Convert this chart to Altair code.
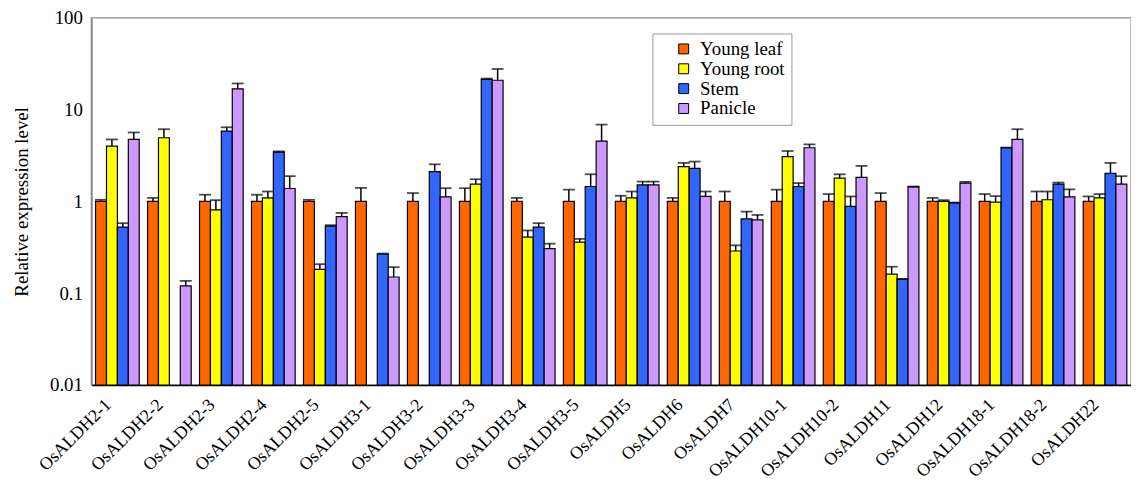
import altair as alt
import pandas as pd

genes = ["OsALDH2-1", "OsALDH2-2", "OsALDH2-3", "OsALDH2-4", "OsALDH2-5",
         "OsALDH3-1", "OsALDH3-2", "OsALDH3-3", "OsALDH3-4", "OsALDH3-5",
         "OsALDH5", "OsALDH6", "OsALDH7", "OsALDH10-1", "OsALDH10-2",
         "OsALDH11", "OsALDH12", "OsALDH18-1", "OsALDH18-2", "OsALDH22"]
tissues = ["Young leaf", "Young root", "Stem", "Panicle"]
colors = ["#FF6600", "#FFFF00", "#3366FF", "#CC99FF"]

young_leaf = [1.0, 1.0, 1.0, 1.0, 1.0, 1.0, 1.0, 1.0, 1.0, 1.0,
              1.0, 1.0, 1.0, 1.0, 1.0, 1.0, 1.0, 1.0, 1.0, 1.0]
young_leaf_err = [1.04, 1.09, 1.18, 1.18, 1.04, 1.40, 1.23, 1.39, 1.09, 1.34,
                  1.15, 1.09, 1.28, 1.34, 1.20, 1.23, 1.09, 1.20, 1.28, 1.13]
young_root = [4.0, 4.92, 0.806, 1.09, 0.182, None, None, 1.54, 0.408, 0.36,
              1.09, 2.39, 0.288, 3.07, 1.79, 0.161, 1.0, 0.98, 1.04, 1.09]
young_root_err = [4.72, 6.1, 1.03, 1.28, 0.207, None, None, 1.74, 0.482, 0.39,
                  1.28, 2.62, 0.332, 3.53, 1.97, 0.194, 1.03, 1.14, 1.28, 1.2]
stem = [0.524, None, 5.8, 3.44, 0.537, 0.267, 2.11, 21.3, 0.524, 1.45,
        1.51, 2.29, 0.644, 1.45, 0.883, 0.142, 0.96, 3.83, 1.54, 2.02]
stem_err = [0.578, None, 6.4, 3.5, 0.55, 0.27, 2.53, 21.7, 0.578, 1.97,
            1.64, 2.71, 0.773, 1.58, 1.13, 0.143, 0.97, 3.85, 1.6, 2.62]
panicle = [4.72, 0.12, 16.8, 1.38, 0.683, 0.15, 1.12, 20.8, 0.305, 4.53,
           1.51, 1.13, 0.628, 3.83, 1.82, 1.44, 1.58, 4.72, 1.12, 1.54]
panicle_err = [5.62, 0.136, 19.2, 1.88, 0.748, 0.192, 1.39, 27.6, 0.346, 6.85,
               1.64, 1.28, 0.711, 4.17, 2.43, 1.45, 1.63, 6.1, 1.35, 1.88]

series = [young_leaf, young_root, stem, panicle]
errors = [young_leaf_err, young_root_err, stem_err, panicle_err]

rows = []
for i, g in enumerate(genes):
    for t, vals, errs in zip(tissues, series, errors):
        v = vals[i]
        if v is None:
            continue
        rows.append({"gene": g, "tissue": t, "value": v, "err": errs[i]})
df = pd.DataFrame(rows)

FONT = "Liberation Serif"

x = alt.X("gene:N", sort=genes,
          scale=alt.Scale(paddingInner=0.16, paddingOuter=0.08),
          axis=alt.Axis(title=None, labelAngle=-45, labelAlign="right",
                        labelBaseline="middle", labelFont=FONT, labelFontSize=18,
                        labelColor="black", labelOffset=-9, labelPadding=17,
                        labelOverlap=False, ticks=False, domainColor="black",
                        domainWidth=1.5))
xoff = alt.XOffset("tissue:N", sort=tissues,
                   scale=alt.Scale(domain=tissues, paddingInner=0, paddingOuter=0))
yscale = alt.Scale(type="log", domain=[0.01, 100])
y = alt.Y("value:Q", scale=yscale,
          axis=alt.Axis(title="Relative expression level", values=[0.01, 0.1, 1, 10, 100],
                        format="~g", grid=False, ticks=False, labelFont=FONT,
                        labelFontSize=19, labelColor="black", labelPadding=9,
                        titleFont=FONT, titleFontSize=19, titleFontWeight="normal",
                        titleColor="black", titlePadding=18, domainColor="#808080",
                        domainWidth=1.5))
color = alt.Color("tissue:N", sort=tissues,
                  scale=alt.Scale(domain=tissues, range=colors),
                  legend=alt.Legend(title=None, orient="none", legendX=565, legendY=16,
                                    strokeColor="#999999", fillColor="white", padding=6,
                                    symbolType="square", symbolSize=100,
                                    symbolStrokeColor="black", symbolStrokeWidth=1,
                                    symbolOffset=16, labelFont=FONT, labelFontSize=19,
                                    labelColor="black", rowPadding=0, labelOffset=7))

base = alt.Chart(df)
bars = base.mark_bar(stroke="black", strokeWidth=1.2).encode(
    x=x, xOffset=xoff, y=y, y2=alt.datum(0.01), color=color)
rules = base.mark_rule(color="black", strokeWidth=1.5).encode(
    x=x, xOffset=xoff, y=alt.Y("value:Q", scale=yscale), y2="err:Q")
caps = base.mark_tick(color="black", thickness=1.8, size=12).encode(
    x=x, xOffset=xoff, y=alt.Y("err:Q", scale=yscale))

chart = alt.layer(rules, bars, caps).properties(
    width=1047, height=370,
    autosize=alt.AutoSizeParams(type="none"),
    padding={"left": 84, "top": 8, "right": 0, "bottom": 102},
    background="white",
).configure_view(stroke="#a0a0a0", strokeWidth=1.5)

chart.save("out.html", embed_options={"renderer": "svg", "actions": False})
